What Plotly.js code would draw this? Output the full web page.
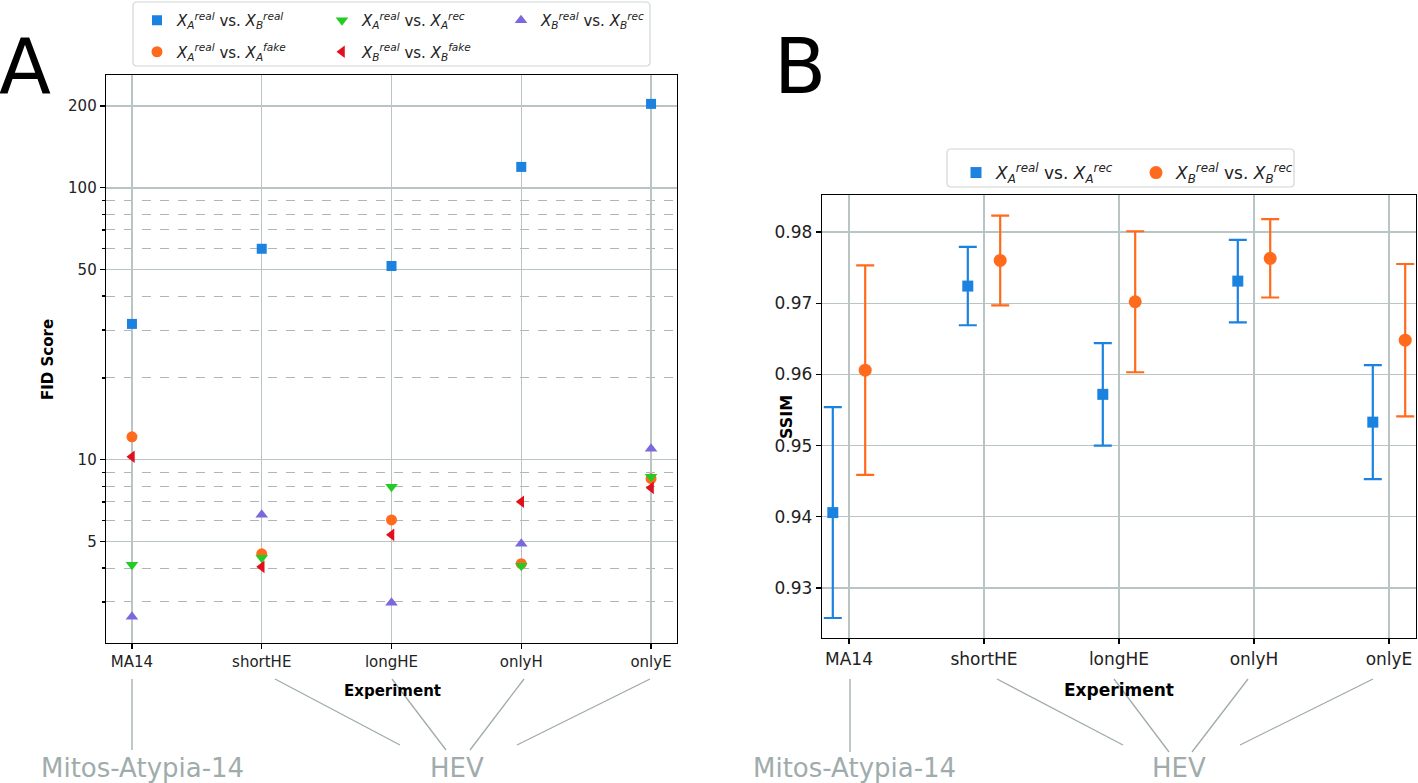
<!DOCTYPE html>
<html>
<head>
<meta charset="utf-8">
<script src="https://cdn.plot.ly/plotly-3.0.1.min.js"></script>
<style>
  html, body { margin: 0; padding: 0; background: #fff; }
  #chart { width: 1418px; height: 783px; }
</style>
</head>
<body>
<div id="chart"></div>
<script>
//------------------------------------------------------------
// FID (A) and SSIM (B) per experiment
//------------------------------------------------------------

// Categories
const experiments = ["MA14", "shortHE", "longHE", "onlyH", "onlyE"];

// Panel A: FID scores (log scale)
const fidRealAvsRealB = [31.6, 59.7, 51.6, 119.4, 203.6];
const fidRealAvsFakeA = [12.15, 4.51, 6.01, 4.15, 8.52];
const fidRealAvsRecA  = [4.11, 4.36, 7.96, 4.08, 8.66];
const fidRealBvsFakeB = [10.26, 4.04, 5.30, 7.01, 7.89];
const fidRealBvsRecB  = [2.65, 6.28, 2.98, 4.91, 10.97];

// Panel B: SSIM mean and std
const ssimA    = [0.9406, 0.9724, 0.9572, 0.9731, 0.9533];
const ssimAErr = [0.0148, 0.0055, 0.0072, 0.0058, 0.0080];
const ssimB    = [0.9606, 0.9760, 0.9702, 0.9763, 0.9648];
const ssimBErr = [0.0147, 0.0063, 0.0099, 0.0055, 0.0107];

// Tick labels
const fidTicks = [5, 10, 50, 100, 200];
const fidMinorTicks = [2, 3, 4, 6, 7, 8, 9, 20, 30, 40, 60, 70, 80, 90];
const ssimTicks = [0.93, 0.94, 0.95, 0.96, 0.97, 0.98];

// Dataset groups under the x axis
const groupLabels = ["Mitos-Atypia-14", "HEV"];

//------------------------------------------------------------
const W = 1418, H = 783;
const px = x => x / W;
const py = y => 1 - y / H;
const FONT = "DejaVu Sans";
const idx = experiments.map((_, i) => i);

const blue = "#1c82e0", orange = "#ff6a1c", green = "#22cc22", red = "#e2101c", purple = "#7b68dd";

// legend label like X_A^real vs. X_B^fake
function lab(a, sa, b, sb) {
  const x = (s, sup) => `<i>X</i><sub><i>${s}</i></sub><sup><i>${sup}</i></sup>`;
  return `${x(a, sa)} vs. ${x(b, sb)}`;
}

function fidTrace(name, y, symbol, color, legend) {
  return {
    type: "scatter", mode: "markers", x: experiments, y, name,
    xaxis: "x", yaxis: "y", legend, legendgroup: name,
    marker: { symbol, color, size: symbol === "square" ? 10 : 11, line: { width: 0 } },
    hoverinfo: "x+y+name"
  };
}

function ssimTrace(name, y, err, offset, symbol, color, legend) {
  return {
    type: "scatter", mode: "markers", x: idx.map(i => i + offset), y, name,
    xaxis: "x2", yaxis: "y2", legend,
    marker: { symbol, color, size: symbol === "square" ? 11 : 13, line: { width: 0 } },
    error_y: { type: "data", array: err, visible: true, color, thickness: 2.2, width: 9 }
  };
}

const traces = [
  fidTrace(lab("A", "real", "B", "real"), fidRealAvsRealB, "square", blue, "legend"),
  fidTrace(lab("A", "real", "A", "fake"), fidRealAvsFakeA, "circle", orange, "legend"),
  fidTrace(lab("A", "real", "A", "rec"), fidRealAvsRecA, "triangle-down", green, "legend2"),
  fidTrace(lab("B", "real", "B", "fake"), fidRealBvsFakeB, "triangle-left", red, "legend2"),
  fidTrace(lab("B", "real", "B", "rec"), fidRealBvsRecB, "triangle-up", purple, "legend3"),
  ssimTrace(lab("A", "real", "A", "rec"), ssimA, ssimAErr, -0.12, "square", blue, "legend4"),
  ssimTrace(lab("B", "real", "B", "rec"), ssimB, ssimBErr, 0.12, "circle", orange, "legend5")
];

// Axes
const axisBase = {
  showline: true, linecolor: "#000", linewidth: 1.3, mirror: true,
  ticks: "outside", ticklen: 5, tickwidth: 1.2, tickcolor: "#000",
  showgrid: true, gridcolor: "#b9c4c4", gridwidth: 1.3, zeroline: false,
  fixedrange: true, tickfont: { family: FONT, size: 15, color: "#222" }
};

const legendBase = {
  bgcolor: "rgba(0,0,0,0)", borderwidth: 0, xanchor: "left", yanchor: "top",
  traceorder: "grouped", tracegroupgap: 9,
  font: { family: FONT, size: 15, color: "#222" }
};

function legendAt(x, y, extra) {
  return Object.assign({}, legendBase, { x: px(x), y: py(y) }, extra || {});
}

// rounded legend frame
function frame(x0, y0, x1, y1) {
  const r = 4;
  const X = v => px(v), Y = v => py(v);
  return {
    type: "path", xref: "paper", yref: "paper",
    path: `M${X(x0 + r)},${Y(y0)} L${X(x1 - r)},${Y(y0)} Q${X(x1)},${Y(y0)} ${X(x1)},${Y(y0 + r)} ` +
          `L${X(x1)},${Y(y1 - r)} Q${X(x1)},${Y(y1)} ${X(x1 - r)},${Y(y1)} L${X(x0 + r)},${Y(y1)} ` +
          `Q${X(x0)},${Y(y1)} ${X(x0)},${Y(y1 - r)} L${X(x0)},${Y(y0 + r)} Q${X(x0)},${Y(y0)} ${X(x0 + r)},${Y(y0)} Z`,
    line: { color: "#d2d6d6", width: 1.2 }, fillcolor: "rgba(0,0,0,0)"
  };
}

// connector lines from tick labels to dataset names
const connColor = "#9fabab";
function conn(x0, y0, x1, y1) {
  return { type: "line", xref: "paper", yref: "paper", x0: px(x0), y0: py(y0), x1: px(x1), y1: py(y1),
    line: { color: connColor, width: 1.3 } };
}

const shapes = [
  frame(133, 2, 650, 66),
  frame(947, 149, 1294, 187),
  conn(132, 679, 132, 750),
  conn(275, 679, 400, 745),
  conn(392, 679, 446, 750),
  conn(524, 679, 470, 750),
  conn(650, 679, 517, 745),
  conn(850, 679, 850, 752),
  conn(997, 679, 1123, 745),
  conn(1114, 679, 1169, 752),
  conn(1248, 679, 1192, 752),
  conn(1373, 679, 1240, 745)
];

function note(text, x, y, size, extra) {
  return Object.assign({
    text, x: px(x), y: py(y), xref: "paper", yref: "paper", showarrow: false,
    xanchor: "center", yanchor: "middle", font: { family: FONT, size, color: "#000" }
  }, extra || {});
}

const groupFont = { family: FONT, size: 26, color: "#a0acac" };
const annotations = [
  note("A", 25, 66, 76),
  note("B", 800, 66, 76),
  note("<b>FID Score</b>", 48, 360, 15, { textangle: -90 }),
  note("<b>Experiment</b>", 392, 691, 15),
  note("<b>SSIM</b>", 786, 417, 16, { textangle: -90 }),
  note("<b>Experiment</b>", 1119, 690, 17),
  note(groupLabels[0], 142, 768, 26, { font: groupFont }),
  note(groupLabels[1], 457, 768, 26, { font: groupFont }),
  note(groupLabels[0], 855, 768, 26, { font: groupFont }),
  note(groupLabels[1], 1179, 768, 26, { font: groupFont })
];

const layout = {
  width: W, height: H, autosize: false,
  margin: { l: 0, r: 0, t: 0, b: 0, pad: 0 },
  paper_bgcolor: "#fff", plot_bgcolor: "#fff",
  xaxis: Object.assign({}, axisBase, {
    domain: [px(106), px(677)], anchor: "y", type: "category",
    categoryorder: "array", categoryarray: experiments, range: [-0.2, 4.2]
  }),
  yaxis: Object.assign({}, axisBase, {
    domain: [py(643), py(75)], anchor: "x", type: "log",
    range: [Math.log10(2.12), Math.log10(260)],
    tickmode: "array", tickvals: fidTicks, ticktext: fidTicks.map(String),
    minor: {
      tickmode: "array", tickvals: fidMinorTicks, ticks: "outside", ticklen: 3, tickcolor: "#000",
      showgrid: true, gridcolor: "#aab8b8", gridwidth: 1, griddash: "dash"
    }
  }),
  xaxis2: Object.assign({}, axisBase, {
    domain: [px(822), px(1416)], anchor: "y2", range: [-0.2, 4.2],
    tickmode: "array", tickvals: idx, ticktext: experiments,
    tickfont: { family: FONT, size: 17, color: "#222" }
  }),
  yaxis2: Object.assign({}, axisBase, {
    domain: [py(638), py(195)], anchor: "x2", range: [0.92299, 0.98519],
    tickmode: "array", tickvals: ssimTicks, ticktext: ssimTicks.map(v => v.toFixed(2)),
    tickfont: { family: FONT, size: 17, color: "#222" }
  }),
  showlegend: true,
  legend: legendAt(137, 4),
  legend2: legendAt(322, 4),
  legend3: legendAt(501, 4),
  legend4: legendAt(956, 155, { font: { family: FONT, size: 17, color: "#222" } }),
  legend5: legendAt(1136, 155, { font: { family: FONT, size: 17, color: "#222" } }),
  shapes, annotations
};

Plotly.newPlot("chart", traces, layout, { displayModeBar: false, staticPlot: true });
</script>
</body>
</html>
